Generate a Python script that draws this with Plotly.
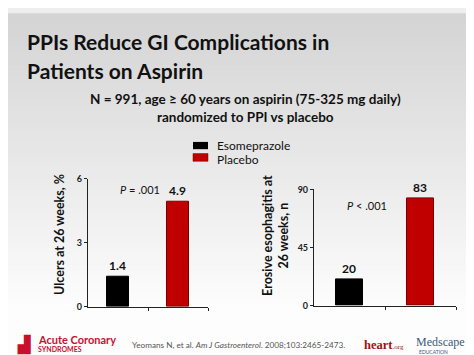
import plotly.graph_objects as go

# ---- data ----
groups = ["Esomeprazole", "Placebo"]
ulcers_pct = [1.4, 4.9]
erosive_n = [20, 83]
ulcer_ticks = [0, 3, 6]
erosive_ticks = [0, 45, 90]
ulcer_labels = ["<b>1.4</b>", "<b>4.9</b>"]
erosive_labels = ["<b>20</b>", "<b>83</b>"]
bar_pos = [0.5, 1.5]
colors = ["#000000", "#c00000"]
lines = ["#000000", "#7a0000"]

FONT = "Lato, 'Open Sans', sans-serif"
W, H = 474, 355

fig = go.Figure()

fig.add_trace(go.Bar(x=bar_pos, y=ulcers_pct, width=0.38,
                     marker=dict(color=colors, line=dict(color=lines, width=1)),
                     text=ulcer_labels, textposition="outside", cliponaxis=False,
                     textfont=dict(family=FONT, size=12, color="#111"),
                     xaxis="x", yaxis="y", showlegend=False))
fig.add_trace(go.Bar(x=bar_pos, y=erosive_n, width=0.39,
                     marker=dict(color=colors, line=dict(color=lines, width=1)),
                     text=erosive_labels, textposition="outside", cliponaxis=False,
                     textfont=dict(family=FONT, size=12, color="#111"),
                     xaxis="x2", yaxis="y2", showlegend=False))

shapes = []
n = 60
for i in range(n):
    t = i / (n - 1)
    c = int(round(0xd4 + (0xfd - 0xd4) * min(1, t * 1.15)))
    shapes.append(dict(type="rect", xref="paper", yref="paper",
                       x0=0, x1=1, y0=1 - (i + 1) / n, y1=1 - i / n + 0.002,
                       fillcolor=f"rgb({c},{c},{c})", line=dict(width=0), layer="below"))

def px(xp): return xp / W
def py(yp): return 1 - yp / H

shapes.append(dict(type="rect", xref="paper", yref="paper", x0=px(185), x1=px(200),
                   y0=py(139.5), y1=py(132), fillcolor="#000", line=dict(width=0)))
shapes.append(dict(type="rect", xref="paper", yref="paper", x0=px(185), x1=px(200),
                   y0=py(152), y1=py(144), fillcolor="#c00000", line=dict(color="#7a0000", width=0.5)))

axis_common = dict(showgrid=False, zeroline=False, showline=True, linecolor="#222",
                   linewidth=1.2, ticks="outside", ticklen=3, tickcolor="#222",
                   tickfont=dict(family=FONT, size=9, color="#222", weight="bold"),
                   fixedrange=True)

fig.update_layout(
    width=W, height=H, margin=dict(l=0, r=0, t=0, b=0),
    paper_bgcolor="#eeeeee", plot_bgcolor="rgba(0,0,0,0)",
    shapes=shapes, bargap=0,
    xaxis=dict(domain=[px(80), px(200)], range=[0, 2], tickvals=[1, 2],
               showticklabels=False, anchor="y", **axis_common),
    yaxis=dict(domain=[py(302), py(170)], range=[0, 6], tickvals=ulcer_ticks,
               anchor="x", **axis_common),
    xaxis2=dict(domain=[px(306), px(448)], range=[0, 2], tickvals=[1, 2],
                showticklabels=False, anchor="y2", **axis_common),
    yaxis2=dict(domain=[py(301), py(181)], range=[0, 90], tickvals=erosive_ticks,
                anchor="x2", **axis_common),
)

ann = []
def A(x, y, text, size, color="#111", xanchor="center", yanchor="middle", angle=0, family=FONT):
    ann.append(dict(x=px(x), y=py(y), xref="paper", yref="paper", text=text,
                    showarrow=False, xanchor=xanchor, yanchor=yanchor, textangle=angle,
                    font=dict(family=family, size=size, color=color)))

A(17, 28, "<b>PPIs Reduce GI Complications in</b>", 21, xanchor="left")
A(17, 58, "<b>Patients on Aspirin</b>", 21, xanchor="left")
A(237, 88, "<b>N = 991, age ≥ 60 years on aspirin (75-325 mg daily)</b>", 13.5)
A(237, 106, "<b>randomized to PPI vs placebo</b>", 13.5)
A(207, 135.5, "Esomeprazole", 12, xanchor="left")
A(207, 150.5, "Placebo", 12, xanchor="left")
A(52, 228, "<b>Ulcers at 26 weeks, %</b>", 12.5, angle=-90)
A(268, 229, "<b>Erosive esophagitis at<br>26 weeks, n</b>", 12.5, angle=-90)
A(132, 181, "<i>P</i> = .001", 11)
A(359, 198, "<i>P</i> < .001", 11)
A(122, 342, "Yeomans N, et al. <i>Am J Gastroenterol</i>. 2008;103:2465-2473.", 8.2,
  color="#555", xanchor="left")
A(28, 336, "<b>Acute Coronary</b>", 11, color="#c8102e", xanchor="left")
A(28, 346, "<b>SYNDROMES</b>", 7, color="#c8102e", xanchor="left")
A(7, 341, "<b>▟</b>", 16, color="#c8102e", xanchor="left")
A(354, 342, "<b>heart</b><span style='font-size:7px'>.org</span>", 12.5, color="#a01010",
  xanchor="left", family="'Liberation Serif', serif")
A(406, 339, "Medscape", 12, color="#3a5a80", xanchor="left", family="'Liberation Serif', serif")
A(409, 349, "EDUCATION", 5, color="#3a5a80", xanchor="left")
fig.update_layout(annotations=ann)

fig.write_html("out.html")
